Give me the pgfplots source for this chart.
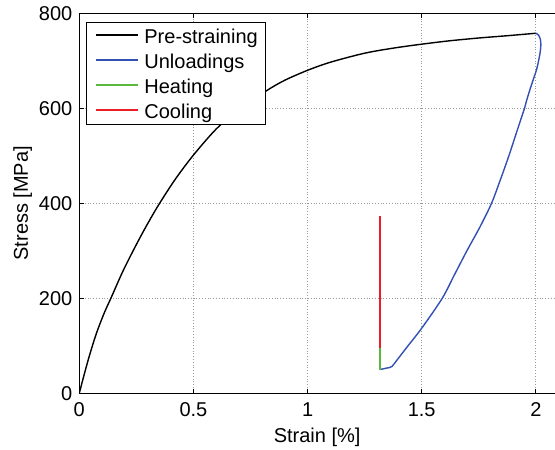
\documentclass[border=0pt]{standalone}
\usepackage{pgfplots}
\pgfplotsset{compat=1.18}
\usepackage{fontspec}
\setmainfont{Liberation Sans}
\definecolor{mblue}{rgb}{0.196,0.314,0.706}
\definecolor{mgreen}{rgb}{0.353,0.725,0.235}
\definecolor{mred}{rgb}{0.92,0.118,0.157}
\tikzset{legent/.style={anchor=base west, inner sep=0pt, yshift=-4.15bp, font=\fontsize{10bp}{12bp}\selectfont}}
\begin{document}
\begin{tikzpicture}
\useasboundingbox (-39.65bp,-28.35bp) rectangle (237.85bp,196.65bp);
\begin{axis}[
  at={(0,0)}, anchor=south west,
  scale only axis,
  width=237.85bp, height=190bp,
  xmin=0, xmax=2.084, ymin=0, ymax=800,
  xtick={0,0.5,1,1.5,2},
  xticklabels={0,0.5,1,1.5,2},
  ytick={0,200,400,600,800},
  axis x line*=box,
  axis y line*=left,
  tick align=inside,
  major tick length=2.2bp,
  tick style={black, line width=0.5bp},
  axis line style={black, line width=0.6bp},
  grid=major,
  major grid style={densely dotted, gray!80, line width=0.5bp},
  font=\fontsize{10bp}{12bp}\selectfont,
  /pgf/number format/assume math mode=true,
  ticklabel style={font=\fontsize{10bp}{12bp}\selectfont},
  xticklabel style={yshift=-1bp},
  xlabel={Strain [\%]},
  ylabel={Stress [MPa]},
  xlabel style={at={(axis description cs:0.5,0)}, anchor=base, yshift=-24.85bp, inner sep=0pt},
  ylabel style={at={(axis description cs:0,0.5)}, anchor=north, yshift=33.2bp, inner sep=0pt},
]
% Pre-straining
\addplot[black, line width=0.7bp, smooth, tension=0.5] coordinates {
(0,0) (0.02,37) (0.04,72) (0.06,104) (0.08,133) (0.11,170) (0.142,204) (0.19,256) (0.24,304)
(0.29,349) (0.346,395.5) (0.42,450.3) (0.5,501.5) (0.6,556.5) (0.7,598) (0.82,637) (0.9,659)
(1.0,680) (1.1,697) (1.25,716) (1.38,727) (1.5,735) (1.62,742) (1.75,748) (1.88,753) (2.0,758)
};
% Unloadings
\addplot[mblue, line width=0.7bp, smooth, tension=0.5] coordinates {
(2.0,758) (2.012,754) (2.02,745) (2.022,733) (2.019,718) (2.012,700) (2.003,681)
(1.98,648) (1.96,617) (1.949,598) (1.916,550) (1.882,500) (1.845,450) (1.806,400) (1.755,350)
(1.698,300) (1.644,250) (1.59,200) (1.5,137) (1.44,100) (1.395,72) (1.368,56)
(1.345,53) (1.317,50)
};
% Heating
\addplot[mgreen, line width=1.3bp] coordinates {(1.317,50) (1.317,95)};
% Cooling
\addplot[mred, line width=1.3bp] coordinates {(1.317,95) (1.317,373)};
% legend box and samples
\addplot[draw=black, fill=white, line width=0.5bp] coordinates {
(0.0324,566.9) (0.8165,566.9) (0.8165,781.1) (0.0324,781.1)} -- cycle;
\addplot[black,  line width=0.6bp] coordinates {(0.0731,754.3) (0.2571,754.3)};
\addplot[mblue,  line width=0.6bp] coordinates {(0.0731,701.7) (0.2571,701.7)};
\addplot[mgreen, line width=0.6bp] coordinates {(0.0731,649.1) (0.2571,649.1)};
\addplot[mred,   line width=0.6bp] coordinates {(0.0731,596.4) (0.2571,596.4)};
\node[legent] at (axis cs:0.2834,754.3) {Pre-straining};
\node[legent] at (axis cs:0.2834,701.7) {Unloadings};
\node[legent] at (axis cs:0.2834,649.1) {Heating};
\node[legent] at (axis cs:0.2834,596.4) {Cooling};
\end{axis}
\end{tikzpicture}
\end{document}
